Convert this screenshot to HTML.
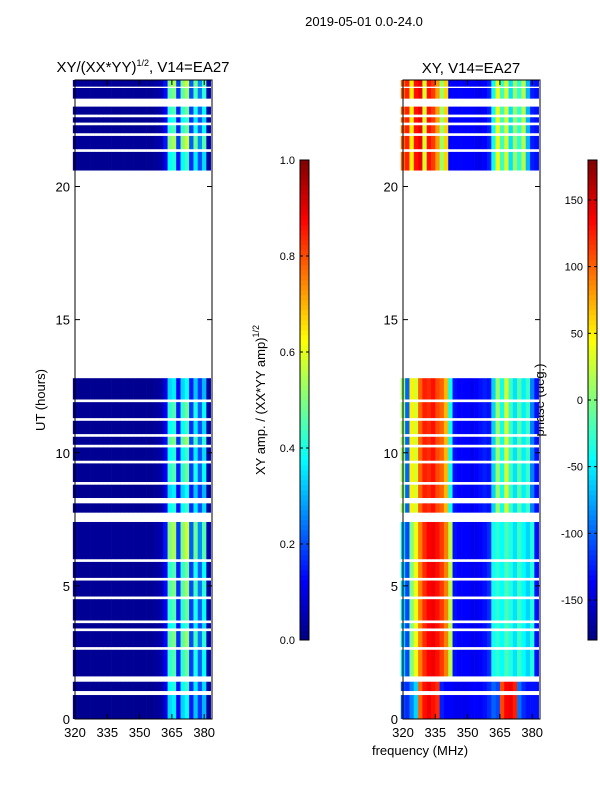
<!DOCTYPE html>
<html><head><meta charset="utf-8">
<style>
body{margin:0;background:#fff;}
svg text{font-family:"Liberation Sans","DejaVu Sans",sans-serif;fill:#000;}
</style></head>
<body>
<svg id="fig" width="600" height="800" xmlns="http://www.w3.org/2000/svg">
<rect width="600" height="800" fill="#fff"/>
<text x="364" y="26" font-size="13" text-anchor="middle">2019-05-01 0.0-24.0</text>
<text x="143" y="72" font-size="15" text-anchor="middle">XY/(XX*YY)<tspan font-size="9" dy="-6">1/2</tspan><tspan dy="6">, V14=EA27</tspan></text>
<text x="471" y="73" font-size="15" text-anchor="middle">XY, V14=EA27</text>
<text x="420" y="755" font-size="13" text-anchor="middle">frequency (MHz)</text>
<text transform="translate(45,400) rotate(-90)" font-size="13" text-anchor="middle">UT (hours)</text>
<text transform="translate(265,400) rotate(-90)" font-size="13" text-anchor="middle">XY amp. / (XX*YY amp)<tspan font-size="9" dy="-6">1/2</tspan></text>
<text transform="translate(544,400) rotate(-90)" font-size="13" text-anchor="middle">phase (deg.)</text>
<g id="left"></g>
<g id="right"></g>
<g id="axes"></g>
<g id="cbars"></g>
</svg>
<script>
// ---- data ----
const freqBins = [320,322,324,326,328,330,332,334,336,338,340,342,344,346,348,350,352,354,356,358,360,362,364,366,368,370,372,374,376,378,380,382];
const ampProfile = [0.02,0.02,0.02,0.02,0.02,0.02,0.02,0.02,0.02,0.02,0.02,0.02,0.02,0.02,0.02,0.02,0.02,0.02,0.02,0.03,0.04,0.12,0.42,0.45,0.15,0.42,0.48,0.18,0.4,0.22,0.38,0.04];
const phaseLow = [-60,-110,0,40,90,120,135,140,130,115,90,20,-130,-135,-135,-135,-140,-140,-135,-130,-120,-40,-30,-45,-20,-35,-55,-25,-45,-60,-35,-130];
const phaseMid = [10,-100,50,30,100,125,120,130,110,100,70,-40,-130,-135,-135,-135,-140,-135,-130,-125,-130,-60,10,-40,30,-25,-55,-15,-50,-25,-90,-130];
const phaseEarly = [-110,-120,-90,-60,100,130,140,130,120,-125,-135,-135,-140,-140,-140,-140,-135,-135,-135,-130,-120,-100,-110,110,135,140,125,-95,-120,-130,-130,-130];
const phaseHigh = [100,125,50,130,140,30,130,115,80,10,60,-135,-135,-135,-135,-135,-135,-140,-140,-135,-125,-40,40,-25,30,-55,10,-30,20,-70,-125,-130];
const segStart = [0,1.05,1.6,2.7,3.4,3.7,4.6,5.3,6.0,7.75,8.3,8.9,9.7,10.3,10.7,11.3,12.0,20.6,21.4,22.0,22.4,22.7,23.3,23.75];
const segEnd   = [0.9,1.4,2.6,3.3,3.6,4.5,5.2,5.9,7.4,8.1,8.8,9.6,10.2,10.6,11.2,11.9,12.8,21.3,21.9,22.3,22.6,23.0,23.7,24];
const segPhase = ["early","early","low","low","low","low","low","low","low","mid","mid","mid","mid","mid","mid","mid","mid","high","high","high","high","high","high","high"];
const segGain  = [0.8,0.9,1.0,1.1,0.9,1.0,1.1,1.0,1.2,0.9,0.8,1.0,0.9,1.1,0.9,1.0,0.8,0.9,1.2,1.0,0.9,1.0,1.1,1.2];
const ampTicks = [0.0,0.2,0.4,0.6,0.8,1.0];
const phaseTicks = [-150,-100,-50,0,50,100,150];
const xTicks = [320,335,350,365,380];
const yTicks = [0,5,10,15,20];

// ---- axes functions ----
const Y = t => 719 - t*(639/24);
const XL = f => 75 + (f-320)*(32.3/15);
const XR = f => 403 + (f-320)*(32.3/15);
function jet(v){v=Math.max(0,Math.min(1,v));
 const r=Math.min(4*v-1.5,-4*v+4.5),g=Math.min(4*v-0.5,-4*v+3.5),b=Math.min(4*v+0.5,-4*v+2.5);
 const c=x=>Math.round(255*Math.max(0,Math.min(1,x)));return `rgb(${c(r)},${c(g)},${c(b)})`;}
const NS="http://www.w3.org/2000/svg";
function mk(tag,attrs,parent){const e=document.createElementNS(NS,tag);for(const k in attrs)e.setAttribute(k,attrs[k]);parent.appendChild(e);return e;}
const profiles={low:phaseLow,mid:phaseMid,early:phaseEarly,high:phaseHigh};
const L=document.getElementById('left'),R=document.getElementById('right');
for(let s=0;s<segStart.length;s++){
 for(let i=0;i<freqBins.length;i++){
  const f0=freqBins[i]-1,f1=Math.min(freqBins[i]+1,383.7),y0=Y(segEnd[s]),y1=Y(segStart[s]);
  const a=mk('rect',{x:XL(f0),y:y0,width:XL(f1)-XL(f0)+0.3,height:y1-y0,fill:jet(ampProfile[i]*segGain[s])},L);
  
  
  const p=profiles[segPhase[s]][i];
  const b=mk('rect',{x:XR(f0),y:y0,width:XR(f1)-XR(f0)+0.3,height:y1-y0,fill:jet((p+180)/360)},R);
  
  
 }
}
const A=document.getElementById('axes');
[75,403].forEach((x0,k)=>{
 const X=k?XR:XL;
 const fr=mk('rect',{x:x0,y:80,width:137,height:639,fill:'none',stroke:'#000','stroke-width':1},A);
 
 
 xTicks.forEach(v=>{const x=X(v);
  mk('line',{x1:x,x2:x,y1:719,y2:714,stroke:'#000'},A);mk('line',{x1:x,x2:x,y1:80,y2:85,stroke:'#000'},A);
  const t=mk('text',{x:x,y:737,'font-size':13,'text-anchor':'middle'},A);t.textContent=v;
  
  });
 yTicks.forEach(v=>{const y=Y(v);
  mk('line',{x1:x0,x2:x0+5,y1:y,y2:y,stroke:'#000'},A);mk('line',{x1:x0+137,x2:x0+132,y1:y,y2:y,stroke:'#000'},A);
  const t=mk('text',{x:x0-5,y:y+5,'font-size':13,'text-anchor':'end'},A);t.textContent=v;
  
  });
});
const C=document.getElementById('cbars');
function cbar(x0,ticks,lo,hi,name){
 for(let j=0;j<96;j++){mk('rect',{x:x0,y:640-(j+1)*5,width:9,height:5.3,fill:jet((j+0.5)/96)},C);}
 const fr=mk('rect',{x:x0,y:160,width:9,height:480,fill:'none',stroke:'#000'},C);
 
 
 ticks.forEach(v=>{const y=640-(v-lo)/(hi-lo)*480;
  mk('line',{x1:x0,x2:x0+3,y1:y,y2:y,stroke:'#000'},C);mk('line',{x1:x0+9,x2:x0+6,y1:y,y2:y,stroke:'#000'},C);
  const t=mk('text',{x:x0-5,y:y+4,'font-size':11,'text-anchor':'end'},C);t.textContent=(hi<=1?v.toFixed(1):v);
  
  });
}
cbar(300,ampTicks,0,1,'amp-colorbar');
cbar(588,phaseTicks,-180,180,'phase-colorbar');
</script>
</body></html>
